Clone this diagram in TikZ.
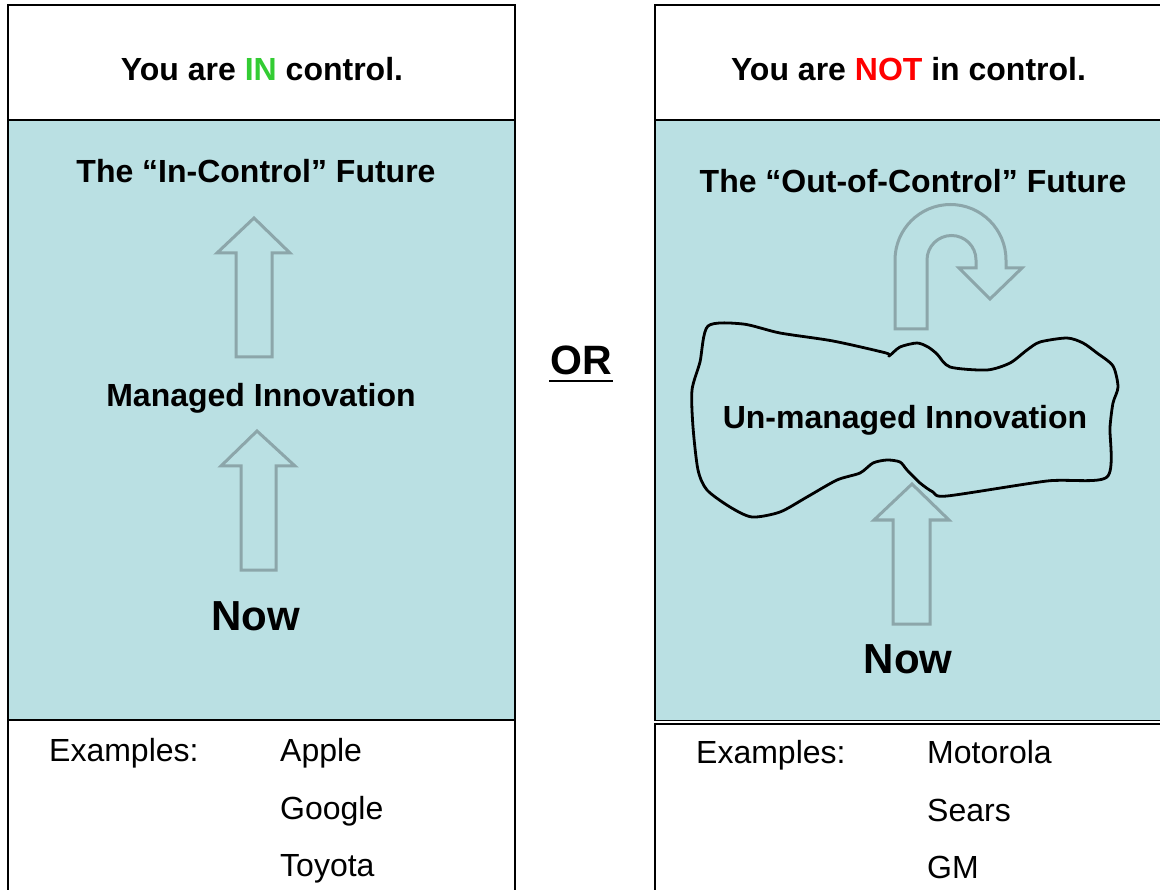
\documentclass[tikz,border=0pt]{standalone}
\usepackage{fontspec}
\setmainfont{Liberation Sans}
\definecolor{panelblue}{RGB}{186,224,227}
\definecolor{arrowgray}{RGB}{140,166,170}
\definecolor{ingreen}{RGB}{51,204,51}
\definecolor{notred}{RGB}{255,0,0}
\tikzset{
  frame/.style={draw=black, line width=1.8pt},
  blockarrow/.style={draw=arrowgray, line width=3pt, fill=panelblue, line join=miter},
  bigtxt/.style={font=\fontsize{32}{38}\selectfont\bfseries, inner sep=0pt, anchor=base},
  nowtxt/.style={font=\fontsize{42}{50}\selectfont\bfseries, inner sep=0pt, anchor=base},
  extxt/.style={font=\fontsize{32}{38}\selectfont, inner sep=0pt, anchor=base west},
}
\begin{document}
\begin{tikzpicture}[x=1pt,y=-1pt]
\useasboundingbox (0,0) rectangle (1160,890);
\clip (0,0) rectangle (1160,890);
\fill[white] (0,0) rectangle (1160,890);

% ---------- left panel ----------
\draw[frame, fill=white] (8,5) rectangle (515,120);
\draw[frame, fill=panelblue] (8,120) rectangle (515,720);
\draw[frame, fill=white] (8,720) rectangle (515,905);

\node[bigtxt] (lhead) at (262,81) {You are \textcolor{ingreen}{IN} control.};
\node[bigtxt] (lfuture) at (256,182.5) {The “In-Control” Future};
\node[bigtxt] (lmanaged) at (261,407) {Managed Innovation};
\node[nowtxt] (lnow) at (255.5,630) {Now};

\draw[blockarrow] (236,357) -- (236,253) -- (217,253) -- (254,218) -- (290,253) -- (272,253) -- (272,357) -- cycle;
\draw[blockarrow] (241,570) -- (241,466) -- (221,466) -- (257,431) -- (295,466) -- (276,466) -- (276,570) -- cycle;

\node[extxt] (lex) at (49,761) {Examples:};
\node[extxt] (lapple) at (280,761) {Apple};
\node[extxt] (lgoogle) at (280,819) {Google};
\node[extxt] (ltoyota) at (280,876) {Toyota};

% ---------- OR ----------
\node[nowtxt, font=\fontsize{41}{48}\selectfont\bfseries] (or) at (581,375) {OR};
\draw[line width=2.5pt] (549,381) -- (613,381);

% ---------- right panel ----------
\draw[frame, fill=white] (655,5) rectangle (1175,120);
\draw[frame, fill=panelblue] (655,120) rectangle (1175,720.5);
\draw[frame, fill=white] (655,724) rectangle (1175,905);

\node[bigtxt] (rhead) at (908.5,81) {You are \textcolor{notred}{NOT} in control.};
\node[bigtxt] (rfuture) at (913,193) {The “Out-of-Control” Future};

% U-turn arrow
\draw[blockarrow] (895,329) -- (895,260) arc[start angle=180, end angle=360, radius=55.5]
  -- (1006,268) -- (1022,268) -- (990,299) -- (959,268) -- (976,268) -- (976,260)
  arc[start angle=0, end angle=-180, radius=24.5] -- (927,329) -- cycle;

% blob
\draw[line width=2.8pt, line join=round] plot[smooth cycle, tension=0.45] coordinates {
  (708,326) (743,324) (780,333) (833,341) (886,353) (889,356) (900,347) (917,343)
  (928,347) (937,354) (950,367) (987,370) (1010,363) (1027,350) (1040,342) (1067,338)
  (1083,343) (1097,353) (1113,366) (1118,387) (1113,403) (1110,427) (1107,477)
  (1047,481) (947,496) (933,492) (920,483) (907,470) (900,462) (887,460) (873,463)
  (860,473) (837,480) (807,497) (780,512) (752,517) (730,507) (707,490) (698,470)
  (693,427) (692,390) (700,362)};

\node[bigtxt] (runmanaged) at (905,429) {Un-managed Innovation};

\draw[blockarrow] (893,624) -- (893,520) -- (874,520) -- (912,484) -- (949,520) -- (930,520) -- (930,624) -- cycle;

\node[nowtxt] (rnow) at (908,673) {Now};

\node[extxt] (rex) at (696,763) {Examples:};
\node[extxt] (rmotorola) at (927,763) {Motorola};
\node[extxt] (rsears) at (927,821) {Sears};
\node[extxt] (rgm) at (927,878) {GM};
\end{tikzpicture}
\end{document}
